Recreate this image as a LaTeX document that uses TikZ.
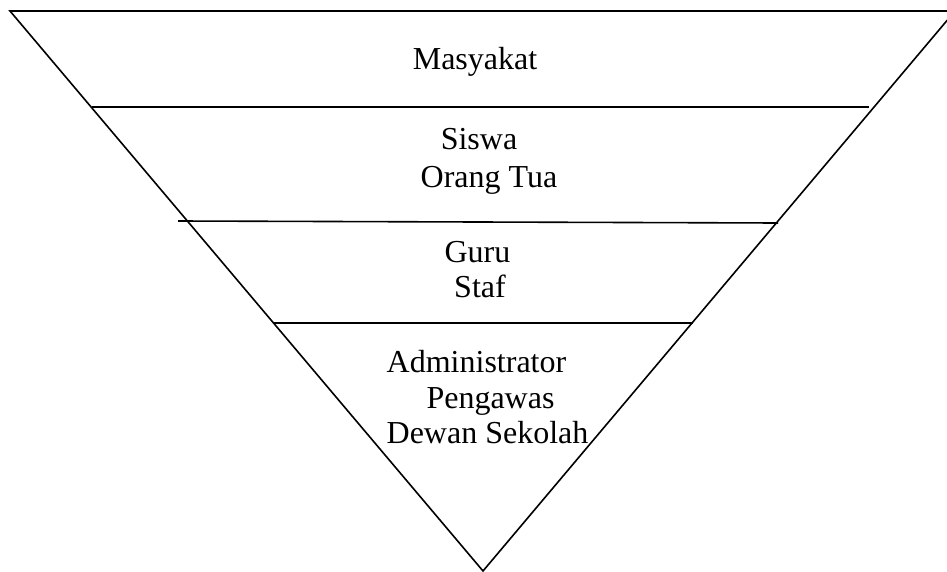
\documentclass[tikz,border=0pt]{standalone}
\usepackage{fontspec}
\setmainfont{Liberation Serif}

\begin{document}
\begin{tikzpicture}[x=1pt,y=-1pt,
  edge/.style={line width=1.6pt},
  lvl/.style={anchor=base,inner sep=0pt,font=\fontsize{32}{38}\selectfont}]
\useasboundingbox (0,0) rectangle (947,572);
\clip (0,0) rectangle (947,572);
\coordinate (tl) at (10,11);
\coordinate (tr) at (955,11);
\coordinate (apex) at (483,571);
\draw[edge] (tl) -- (tr) -- (apex) -- cycle;
\coordinate (a1) at (92,107);
\coordinate (b1) at (869,107);
\coordinate (a2) at (178,221);
\coordinate (b2) at (778,223);
\coordinate (a3) at (273,323);
\coordinate (b3) at (693,323);
\draw[edge] (a1) -- (b1);
\draw[edge] (a2) -- (b2);
\draw[edge] (a3) -- (b3);
\node[lvl] (masy) at (475,70) {Masyakat};
\node[lvl] (siswa) at (479,150) {Siswa};
\node[lvl] (ortu) at (489,188) {Orang Tua};
\node[lvl] (guru) at (477.5,262) {Guru};
\node[lvl] (staf) at (480,297) {Staf};
\node[lvl] (admin) at (476.5,372) {Administrator};
\node[lvl] (awas) at (490.5,408) {Pengawas};
\node[lvl] (dewan) at (487.5,443) {Dewan Sekolah};
\end{tikzpicture}
\end{document}
